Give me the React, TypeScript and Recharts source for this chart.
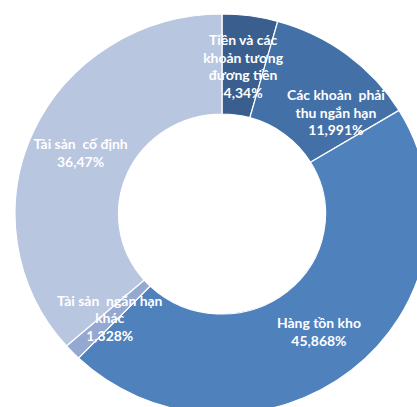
import { PieChart, Pie, Cell } from "recharts"

const CATEGORIES = [
  ["Tiền và các", "khoản tương", "đương tiền"],
  ["Các khoản  phải", "thu ngắn hạn"],
  ["Hàng tồn kho"],
  ["Tài sản  ngắn hạn", "khác"],
  ["Tài sản  cố định"],
]

const SHARES = [4.34, 11.991, 45.868, 1.328, 36.47]

const COLORS = ["#3a5f8f", "#4470a8", "#4f81bd", "#95a8d1", "#b9c6e0"]

// Excel nudged the second label a bit to fit it in the slice
const LABEL_ANGLE_NUDGE = [0, -10, 0, 0, 0]

const data = SHARES.map((v, i) => ({ name: CATEGORIES[i].join(" "), value: v }))

const RADIAN = Math.PI / 180
const LINE_H = 17.5

function renderLabel(props: any) {
  const { cx, cy, midAngle, innerRadius, outerRadius, index } = props
  const r = (innerRadius + outerRadius) / 2
  const a = (midAngle + LABEL_ANGLE_NUDGE[index]) * RADIAN
  const x = cx + r * Math.cos(-a)
  const y = cy + r * Math.sin(-a)
  const lines = [...CATEGORIES[index], String(SHARES[index]).replace(".", ",") + "%"]
  const top = y - ((lines.length - 1) * LINE_H) / 2
  return (
    <text
      x={x}
      y={top}
      textAnchor="middle"
      dominantBaseline="central"
      fill="#ffffff"
      fontFamily="Lato, 'Open Sans', sans-serif"
      fontSize={13.5}
      fontWeight={700}
      style={{ whiteSpace: "pre" }}
    >
      {lines.map((l, i) => (
        <tspan key={i} x={x} dy={i === 0 ? 0 : LINE_H}>
          {l}
        </tspan>
      ))}
    </text>
  )
}

export default function App() {
  return (
    <div style={{ position: "absolute", left: 0, top: 0, width: 417, height: 407, background: "#fff", overflow: "hidden" }}>
      {/* the original donut is a little wider than tall */}
      <div style={{ transform: "scaleX(1.035)", transformOrigin: "222px 0" }}>
        <PieChart width={417} height={407} margin={{ top: 0, right: 0, bottom: 0, left: 0 }}>
          <Pie
            data={data}
            dataKey="value"
            nameKey="name"
            cx={222}
            cy={214}
            innerRadius={100}
            outerRadius={200}
            startAngle={90}
            endAngle={-270}
            stroke="#ffffff"
            strokeWidth={1.2}
            label={renderLabel}
            labelLine={false}
            isAnimationActive={false}
          >
            {data.map((d, i) => (
              <Cell key={d.name} fill={COLORS[i]} />
            ))}
          </Pie>
        </PieChart>
      </div>
    </div>
  )
}
